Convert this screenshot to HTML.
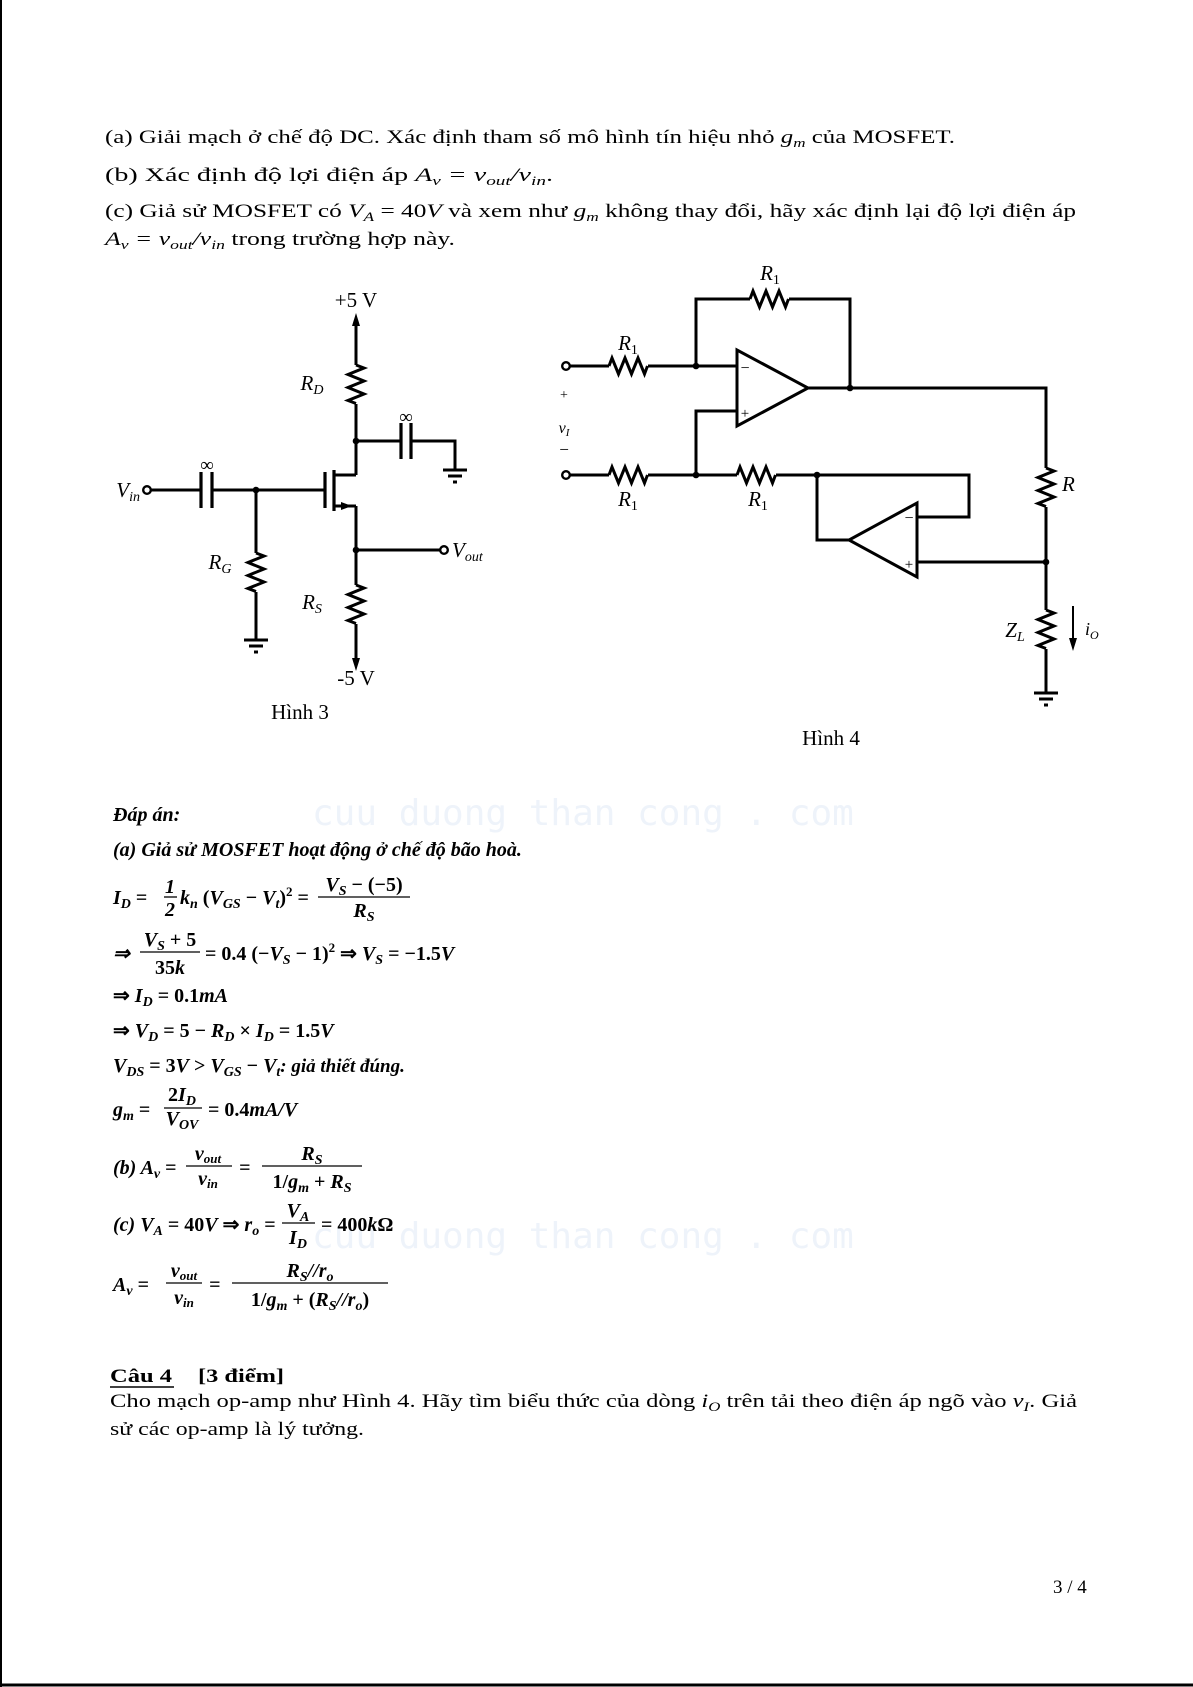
<!DOCTYPE html>
<html><head><meta charset="utf-8"><style>
html,body{margin:0;padding:0;background:#fff;}
svg{display:block;}
text{font-family:"Liberation Serif",serif;fill:#000;}
.t{font-size:19px;}
.c{font-size:21px;}
.m{font-size:20px;font-style:italic;font-weight:bold;}
.i{font-style:italic;}
.b{font-weight:bold;}
.w{font-family:"DejaVu Sans Mono",monospace;font-size:36px;fill:#eef3fa;}
</style></head><body>
<svg width="1193" height="1687" viewBox="0 0 1193 1687" xmlns="http://www.w3.org/2000/svg">
<rect x="0" y="0" width="1193" height="1687" fill="#fff"/>
<line x1="1" y1="0" x2="1" y2="1687" stroke="#000" stroke-width="2"/>
<line x1="0" y1="1685" x2="1193" y2="1685" stroke="#000" stroke-width="3"/>
<text class="w" x="312" y="825">cuu duong than cong . com</text>
<text class="w" x="312" y="1248">cuu duong than cong . com</text>

<!-- Problem text -->
<text class="t" x="105" y="143" textLength="850" lengthAdjust="spacingAndGlyphs">(a) Giải mạch ở chế độ DC. Xác định tham số mô hình tín hiệu nhỏ <tspan class="i">g<tspan font-size="13" dy="4">m</tspan></tspan><tspan dy="-4"> của MOSFET.</tspan></text>
<text class="t" x="105" y="181" textLength="448" lengthAdjust="spacingAndGlyphs">(b) Xác định độ lợi điện áp <tspan class="i">A<tspan font-size="13" dy="4">v</tspan><tspan dy="-4"> = v</tspan><tspan font-size="13" dy="4">out</tspan><tspan dy="-4">/v</tspan><tspan font-size="13" dy="4">in</tspan></tspan><tspan dy="-4">.</tspan></text>
<text class="t" x="105" y="217" textLength="971" lengthAdjust="spacingAndGlyphs">(c) Giả sử MOSFET có <tspan class="i">V<tspan font-size="13" dy="4">A</tspan></tspan><tspan dy="-4"> = 40</tspan><tspan class="i">V</tspan> và xem như <tspan class="i">g<tspan font-size="13" dy="4">m</tspan></tspan><tspan dy="-4"> không thay đổi, hãy xác định lại độ lợi điện áp</tspan></text>
<text class="t" x="105" y="245" textLength="350" lengthAdjust="spacingAndGlyphs"><tspan class="i">A<tspan font-size="13" dy="4">v</tspan><tspan dy="-4"> = v</tspan><tspan font-size="13" dy="4">out</tspan><tspan dy="-4">/v</tspan><tspan font-size="13" dy="4">in</tspan></tspan><tspan dy="-4"> trong trường hợp này.</tspan></text>

<!-- Figure 3 -->
<g stroke="#000" stroke-width="3" fill="none" stroke-linejoin="miter">
<line x1="356" y1="318" x2="356" y2="365"/>
<path d="M356 365 l8 3 l-16 6.5 l16 6.5 l-16 6.5 l16 6.5 l-16 6.5 l8 3"/>
<line x1="356" y1="404" x2="356" y2="475"/>
<polyline points="356,441 401,441"/>
<line x1="401" y1="423" x2="401" y2="459" stroke-width="3.2"/>
<line x1="411" y1="423" x2="411" y2="459" stroke-width="3.2"/>
<polyline points="411,441 455,441 455,470"/>
<line x1="443" y1="470" x2="467" y2="470"/>
<line x1="448" y1="476" x2="462" y2="476"/>
<line x1="453" y1="482" x2="457" y2="482"/>
<line x1="151" y1="490" x2="201" y2="490"/>
<line x1="201" y1="472" x2="201" y2="508" stroke-width="3.2"/>
<line x1="212" y1="472" x2="212" y2="508" stroke-width="3.2"/>
<line x1="212" y1="490" x2="325" y2="490"/>
<line x1="325" y1="472" x2="325" y2="508" stroke-width="3.2"/>
<line x1="334" y1="470" x2="334" y2="511" stroke-width="3.2"/>
<line x1="334" y1="475" x2="356" y2="475"/>
<line x1="334" y1="506" x2="356" y2="506"/>
<line x1="356" y1="506" x2="356" y2="585"/>
<line x1="356" y1="550" x2="440" y2="550"/>
<path d="M356 585 l8 3 l-16 6.5 l16 6.5 l-16 6.5 l16 6.5 l-16 6.5 l8 3"/>
<line x1="356" y1="624" x2="356" y2="662"/>
<line x1="256" y1="490" x2="256" y2="553"/>
<path d="M256 553 l8 3 l-16 6.5 l16 6.5 l-16 6.5 l16 6.5 l-16 6.5 l8 3"/>
<line x1="256" y1="592" x2="256" y2="640"/>
<line x1="244" y1="640" x2="268" y2="640"/>
<line x1="249" y1="646" x2="263" y2="646"/>
<line x1="254" y1="652" x2="258" y2="652"/>
<circle cx="147" cy="490" r="3.8" stroke-width="2.4" fill="#fff"/>
<circle cx="444" cy="550" r="3.8" stroke-width="2.4" fill="#fff"/>
</g>
<g fill="#000">
<polygon points="356,313 352,326 360,326"/>
<polygon points="356,671 352,658 360,658"/>
<polygon points="352,506 341,502 341,510"/>
<circle cx="356" cy="441" r="3.3"/>
<circle cx="256" cy="490" r="3.3"/>
<circle cx="356" cy="550" r="3.3"/>
</g>
<text class="c" x="356" y="307" text-anchor="middle">+5 V</text>
<text class="c" x="356" y="685" text-anchor="middle">-5 V</text>
<text class="t" x="406" y="423" text-anchor="middle" font-size="24">∞</text>
<text class="t" x="207" y="471" text-anchor="middle" font-size="24">∞</text>
<text class="c i" x="140" y="497" text-anchor="end">V<tspan font-size="14" dy="4">in</tspan></text>
<text class="c i" x="452" y="557">V<tspan font-size="14" dy="4">out</tspan></text>
<text class="c i" x="312" y="390" text-anchor="middle">R<tspan font-size="14" dy="4">D</tspan></text>
<text class="c i" x="220" y="569" text-anchor="middle">R<tspan font-size="14" dy="4">G</tspan></text>
<text class="c i" x="312" y="609" text-anchor="middle">R<tspan font-size="14" dy="4">S</tspan></text>
<text class="c" x="300" y="719" text-anchor="middle">Hình 3</text>

<!-- Figure 4 -->
<g stroke="#000" stroke-width="3" fill="none">
<line x1="570" y1="366" x2="609" y2="366"/>
<path d="M609 366 l3 -8 l6.5 16 l6.5 -16 l6.5 16 l6.5 -16 l6.5 16 l3 -8"/>
<line x1="648" y1="366" x2="737" y2="366"/>
<polyline points="696,366 696,299 750,299"/>
<path d="M750 299 l3 -8 l6.5 16 l6.5 -16 l6.5 16 l6.5 -16 l6.5 16 l3 -8"/>
<polyline points="789,299 850,299 850,388"/>
<polygon points="737,350 737,426 808,388"/>
<polyline points="808,388 1046,388 1046,468"/>
<path d="M1046 468 l8 3 l-16 6.5 l16 6.5 l-16 6.5 l16 6.5 l-16 6.5 l8 3"/>
<line x1="1046" y1="507" x2="1046" y2="610"/>
<path d="M1046 610 l8 3 l-16 6.5 l16 6.5 l-16 6.5 l16 6.5 l-16 6.5 l8 3"/>
<line x1="1046" y1="649" x2="1046" y2="693"/>
<line x1="1034" y1="693" x2="1058" y2="693"/>
<line x1="1039" y1="699" x2="1053" y2="699"/>
<line x1="1044" y1="705" x2="1048" y2="705"/>
<polyline points="737,411 696,411 696,475"/>
<line x1="570" y1="475" x2="609" y2="475"/>
<path d="M609 475 l3 -8 l6.5 16 l6.5 -16 l6.5 16 l6.5 -16 l6.5 16 l3 -8"/>
<line x1="648" y1="475" x2="737" y2="475"/>
<path d="M737 475 l3 -8 l6.5 16 l6.5 -16 l6.5 16 l6.5 -16 l6.5 16 l3 -8"/>
<polyline points="776,475 969,475 969,517 917,517"/>
<polygon points="917,503 917,577 849,540"/>
<polyline points="849,540 817,540 817,475"/>
<line x1="917" y1="562" x2="1046" y2="562"/>
<line x1="1073" y1="606" x2="1073" y2="640" stroke-width="2"/>
<circle cx="566" cy="366" r="3.8" stroke-width="2.4" fill="#fff"/>
<circle cx="566" cy="475" r="3.8" stroke-width="2.4" fill="#fff"/>
</g>
<g fill="#000">
<polygon points="1073,651 1069,638 1077,638"/>
<circle cx="696" cy="366" r="3.3"/>
<circle cx="850" cy="388" r="3.3"/>
<circle cx="696" cy="475" r="3.3"/>
<circle cx="817" cy="475" r="3.3"/>
<circle cx="1046" cy="562" r="3.3"/>
</g>
<text x="745" y="373" font-size="16" text-anchor="middle">−</text>
<text x="745" y="418" font-size="15" text-anchor="middle">+</text>
<text x="909" y="523" font-size="16" text-anchor="middle">−</text>
<text x="909" y="569" font-size="15" text-anchor="middle">+</text>
<text class="c i" x="628" y="350" text-anchor="middle">R<tspan font-size="14" dy="4" font-style="normal">1</tspan></text>
<text class="c i" x="770" y="280" text-anchor="middle">R<tspan font-size="14" dy="4" font-style="normal">1</tspan></text>
<text class="c i" x="628" y="506" text-anchor="middle">R<tspan font-size="14" dy="4" font-style="normal">1</tspan></text>
<text class="c i" x="758" y="506" text-anchor="middle">R<tspan font-size="14" dy="4" font-style="normal">1</tspan></text>
<text class="c i" x="1062" y="491">R</text>
<text class="c i" x="1015" y="637" text-anchor="middle">Z<tspan font-size="14" dy="4">L</tspan></text>
<text class="i" x="1085" y="635" font-size="18">i<tspan font-size="12" dy="4">O</tspan></text>
<text x="564" y="399" font-size="14" text-anchor="middle">+</text>
<text class="i" x="564" y="433" font-size="16" text-anchor="middle">v<tspan font-size="11" dy="3">I</tspan></text>
<text x="564" y="455" font-size="17" text-anchor="middle">−</text>
<text class="c" x="831" y="745" text-anchor="middle">Hình 4</text>

<!-- Answers -->
<text class="m" x="113" y="821" font-size="19">Đáp án:</text>
<text class="m" x="113" y="856" font-size="19">(a) Giả sử MOSFET hoạt động ở chế độ bão hoà.</text>

<text class="m" x="113" y="904">I<tspan font-size="14" dy="4">D</tspan><tspan dy="-4" font-style="normal"> =</tspan></text>
<text class="m" x="170" y="893" text-anchor="middle" font-style="normal">1</text>
<line x1="164" y1="897" x2="177" y2="897" stroke="#000" stroke-width="1.3"/>
<text class="m" x="170" y="916" text-anchor="middle" font-style="normal">2</text>
<text class="m" x="180" y="904">k<tspan font-size="14" dy="4">n</tspan><tspan dy="-4" font-style="normal"> (</tspan>V<tspan font-size="14" dy="4">GS</tspan><tspan dy="-4" font-style="normal"> − </tspan>V<tspan font-size="14" dy="4">t</tspan><tspan dy="-4" font-style="normal">)</tspan><tspan font-size="13" dy="-8" font-style="normal">2</tspan><tspan dy="8" font-style="normal"> =</tspan></text>
<text class="m" x="364" y="891" text-anchor="middle">V<tspan font-size="14" dy="4">S</tspan><tspan dy="-4" font-style="normal"> − (−5)</tspan></text>
<line x1="318" y1="897" x2="410" y2="897" stroke="#000" stroke-width="1.3"/>
<text class="m" x="364" y="917" text-anchor="middle">R<tspan font-size="14" dy="4">S</tspan></text>

<text class="m" x="113" y="960" font-style="normal">⇒</text>
<text class="m" x="170" y="946" text-anchor="middle">V<tspan font-size="14" dy="4">S</tspan><tspan dy="-4" font-style="normal"> + 5</tspan></text>
<line x1="140" y1="952" x2="200" y2="952" stroke="#000" stroke-width="1.3"/>
<text class="m" x="170" y="974" text-anchor="middle"><tspan font-style="normal">35</tspan>k</text>
<text class="m" x="205" y="960"><tspan font-style="normal">= 0.4 (−</tspan>V<tspan font-size="14" dy="4">S</tspan><tspan dy="-4" font-style="normal"> − 1)</tspan><tspan font-size="13" dy="-8" font-style="normal">2</tspan><tspan dy="8" font-style="normal"> ⇒ </tspan>V<tspan font-size="14" dy="4">S</tspan><tspan dy="-4" font-style="normal"> = −1.5</tspan>V</text>

<text class="m" x="113" y="1002"><tspan font-style="normal">⇒ </tspan>I<tspan font-size="14" dy="4">D</tspan><tspan dy="-4" font-style="normal"> = 0.1</tspan>mA</text>
<text class="m" x="113" y="1037"><tspan font-style="normal">⇒ </tspan>V<tspan font-size="14" dy="4">D</tspan><tspan dy="-4" font-style="normal"> = 5 − </tspan>R<tspan font-size="14" dy="4">D</tspan><tspan dy="-4" font-style="normal"> × </tspan>I<tspan font-size="14" dy="4">D</tspan><tspan dy="-4" font-style="normal"> = 1.5</tspan>V</text>
<text class="m" x="113" y="1072">V<tspan font-size="14" dy="4">DS</tspan><tspan dy="-4" font-style="normal"> = 3</tspan>V<tspan font-style="normal"> &gt; </tspan>V<tspan font-size="14" dy="4">GS</tspan><tspan dy="-4" font-style="normal"> − </tspan>V<tspan font-size="14" dy="4">t</tspan><tspan dy="-4" font-size="19">: giả thiết đúng.</tspan></text>

<text class="m" x="113" y="1116">g<tspan font-size="14" dy="4">m</tspan><tspan dy="-4" font-style="normal"> =</tspan></text>
<text class="m" x="182" y="1101" text-anchor="middle"><tspan font-style="normal">2</tspan>I<tspan font-size="14" dy="4">D</tspan></text>
<line x1="164" y1="1108" x2="202" y2="1108" stroke="#000" stroke-width="1.3"/>
<text class="m" x="182" y="1125" text-anchor="middle">V<tspan font-size="14" dy="4">OV</tspan></text>
<text class="m" x="208" y="1116"><tspan font-style="normal">= 0.4</tspan>mA/V</text>

<text class="m" x="113" y="1174">(b) A<tspan font-size="14" dy="4">v</tspan><tspan dy="-4" font-style="normal"> =</tspan></text>
<text class="m" x="208" y="1160" text-anchor="middle" font-size="17">v<tspan font-size="13" dy="3">out</tspan></text>
<line x1="186" y1="1166" x2="232" y2="1166" stroke="#000" stroke-width="1.3"/>
<text class="m" x="208" y="1185" text-anchor="middle" font-size="17">v<tspan font-size="13" dy="3">in</tspan></text>
<text class="m" x="239" y="1174" font-style="normal">=</text>
<text class="m" x="312" y="1160" text-anchor="middle">R<tspan font-size="14" dy="4">S</tspan></text>
<line x1="262" y1="1166" x2="362" y2="1166" stroke="#000" stroke-width="1.3"/>
<text class="m" x="312" y="1188" text-anchor="middle"><tspan font-style="normal">1/</tspan>g<tspan font-size="14" dy="4">m</tspan><tspan dy="-4" font-style="normal"> + </tspan>R<tspan font-size="14" dy="4">S</tspan></text>

<text class="m" x="113" y="1231">(c) V<tspan font-size="14" dy="4">A</tspan><tspan dy="-4" font-style="normal"> = 40</tspan>V<tspan font-style="normal"> ⇒ </tspan>r<tspan font-size="14" dy="4">o</tspan><tspan dy="-4" font-style="normal"> =</tspan></text>
<text class="m" x="298" y="1217" text-anchor="middle">V<tspan font-size="14" dy="4">A</tspan></text>
<line x1="282" y1="1223" x2="315" y2="1223" stroke="#000" stroke-width="1.3"/>
<text class="m" x="298" y="1244" text-anchor="middle">I<tspan font-size="14" dy="4">D</tspan></text>
<text class="m" x="321" y="1231"><tspan font-style="normal">= 400</tspan>k<tspan font-style="normal">Ω</tspan></text>

<text class="m" x="113" y="1291">A<tspan font-size="14" dy="4">v</tspan><tspan dy="-4" font-style="normal"> =</tspan></text>
<text class="m" x="184" y="1277" text-anchor="middle" font-size="17">v<tspan font-size="13" dy="3">out</tspan></text>
<line x1="166" y1="1283" x2="202" y2="1283" stroke="#000" stroke-width="1.3"/>
<text class="m" x="184" y="1304" text-anchor="middle" font-size="17">v<tspan font-size="13" dy="3">in</tspan></text>
<text class="m" x="209" y="1291" font-style="normal">=</text>
<text class="m" x="310" y="1277" text-anchor="middle">R<tspan font-size="14" dy="4">S</tspan><tspan dy="-4">//r</tspan><tspan font-size="14" dy="4">o</tspan></text>
<line x1="232" y1="1283" x2="388" y2="1283" stroke="#000" stroke-width="1.3"/>
<text class="m" x="310" y="1306" text-anchor="middle"><tspan font-style="normal">1/</tspan>g<tspan font-size="14" dy="4">m</tspan><tspan dy="-4" font-style="normal"> + (</tspan>R<tspan font-size="14" dy="4">S</tspan><tspan dy="-4">//r</tspan><tspan font-size="14" dy="4">o</tspan><tspan dy="-4" font-style="normal">)</tspan></text>

<!-- Cau 4 -->
<text class="t b" x="110" y="1382" font-size="20" textLength="62" lengthAdjust="spacingAndGlyphs">Câu 4</text>
<line x1="110" y1="1387" x2="174" y2="1387" stroke="#000" stroke-width="1.5"/>
<text class="t b" x="198" y="1382" font-size="20" textLength="86" lengthAdjust="spacingAndGlyphs">[3 điểm]</text>
<text class="t" x="110" y="1407" textLength="967" lengthAdjust="spacingAndGlyphs">Cho mạch op-amp như Hình 4. Hãy tìm biểu thức của dòng <tspan class="i">i<tspan font-size="13" dy="4">O</tspan></tspan><tspan dy="-4"> trên tải theo điện áp ngõ vào </tspan><tspan class="i">v<tspan font-size="13" dy="4">I</tspan></tspan><tspan dy="-4">. Giả</tspan></text>
<text class="t" x="110" y="1435" textLength="254" lengthAdjust="spacingAndGlyphs">sử các op-amp là lý tưởng.</text>
<text class="t" x="1053" y="1593">3 / 4</text>
</svg>
</body></html>
